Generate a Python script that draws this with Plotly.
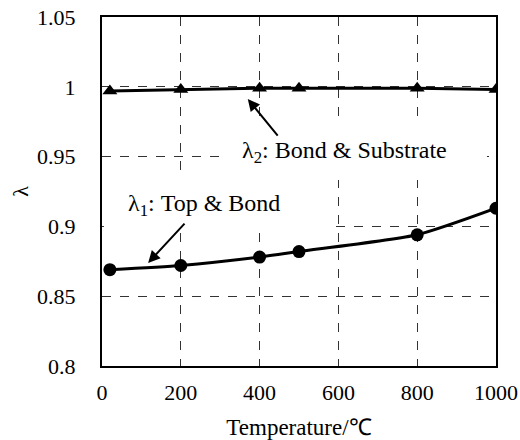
import plotly.graph_objects as go

temps = [20, 200, 400, 500, 800, 1000]
lambda1 = [0.869, 0.872, 0.878, 0.882, 0.894, 0.913]
lambda2 = [0.997, 0.998, 0.999, 0.999, 0.999, 0.998]
x_ticks = [0, 200, 400, 600, 800, 1000]
y_ticks = [0.8, 0.85, 0.9, 0.95, 1.0, 1.05]
y_tick_text = ["0.8", "0.85", "0.9", "0.95", "1", "1.05"]

FONT = "Liberation Serif"

fig = go.Figure()
fig.add_trace(go.Scatter(x=temps, y=lambda2, mode="lines+markers",
                         line=dict(color="black", width=3),
                         marker=dict(symbol="triangle-up", size=13, color="black"),
                         showlegend=False))
fig.add_trace(go.Scatter(x=temps, y=lambda1, mode="lines+markers",
                         line=dict(color="black", width=3, shape="spline", smoothing=0.6),
                         marker=dict(symbol="circle", size=13, color="black"),
                         showlegend=False))

# white label backgrounds that interrupt the grid
fig.add_shape(type="rect", xref="x", yref="y", x0=5, x1=579, y0=0.8974, y1=0.9354,
              fillcolor="white", line=dict(width=0), layer="above")
fig.add_shape(type="rect", xref="x", yref="y", x0=317, x1=977, y0=0.9332, y1=0.9726,
              fillcolor="white", line=dict(width=0), layer="above")

fig.add_annotation(x=60, y=0.9153, xref="x", yref="y", xanchor="left",
                   text="λ<sub>1</sub>: Top &amp; Bond", showarrow=False,
                   font=dict(family=FONT, size=24, color="black"))
fig.add_annotation(x=350, y=0.9533, xref="x", yref="y", xanchor="left",
                   text="λ<sub>2</sub>: Bond &amp; Substrate", showarrow=False,
                   font=dict(family=FONT, size=24, color="black"))
fig.add_annotation(x=117, y=0.8738, ax=213, ay=0.9031, xref="x", yref="y",
                   axref="x", ayref="y", text="", showarrow=True,
                   arrowhead=2, arrowsize=1.2, arrowwidth=2, arrowcolor="black")
fig.add_annotation(x=370, y=0.9913, ax=449, ay=0.964, xref="x", yref="y",
                   axref="x", ayref="y", text="", showarrow=True,
                   arrowhead=2, arrowsize=1.2, arrowwidth=2, arrowcolor="black")

grid = dict(showgrid=True, gridcolor="#333333", gridwidth=1, griddash="dash")
fig.update_xaxes(range=[0, 1000], tickvals=x_ticks, ticks="", ticklabelstandoff=6,
                 automargin=False,
                 showline=True, linecolor="black", linewidth=2, mirror=True,
                 zeroline=False, tickfont=dict(family=FONT, size=22, color="black"),
                 title=dict(text="Temperature/℃", font=dict(family=FONT, size=23, color="black"),
                            standoff=18),
                 **grid)
fig.update_yaxes(range=[0.8, 1.05], tickvals=y_ticks, ticktext=y_tick_text, ticks="",
                 ticklabelstandoff=20, automargin=False,
                 showline=True, linecolor="black", linewidth=2, mirror=True,
                 zeroline=False, tickfont=dict(family=FONT, size=22, color="black"),
                 title=dict(text="λ", font=dict(family=FONT, size=22, color="black"),
                            standoff=2),
                 **grid)

fig.update_layout(width=520, height=440, plot_bgcolor="white", paper_bgcolor="white",
                  margin=dict(l=102, r=24, t=17, b=74), showlegend=False)
fig.write_html("out.html", config={"displayModeBar": False},
               post_script="document.body.style.margin='0';")
